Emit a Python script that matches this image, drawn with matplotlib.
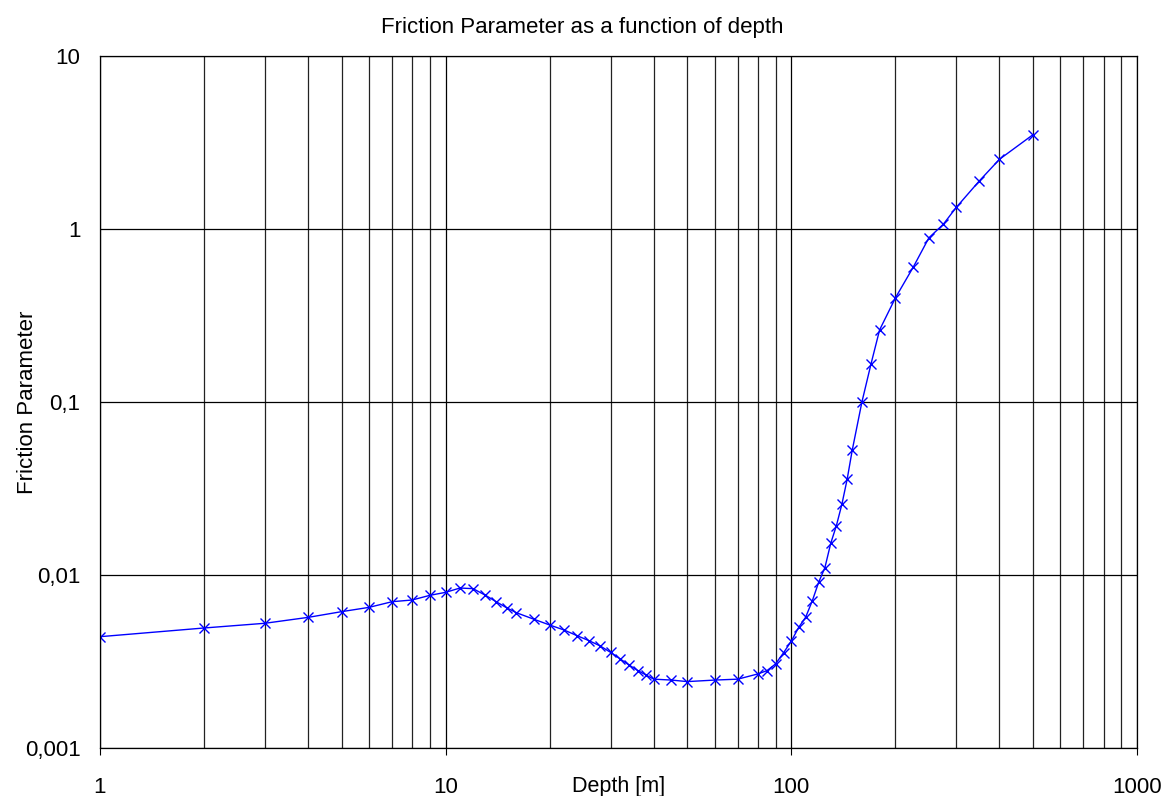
import matplotlib
matplotlib.use('Agg')
import matplotlib.pyplot as plt
from matplotlib.ticker import FixedLocator, FixedFormatter, NullFormatter, LogLocator

plt.rcParams['font.family'] = ['Liberation Sans', 'DejaVu Sans']

# depth [m] and friction parameter
depth = [1, 2, 3, 4, 5, 6, 7, 8, 9, 10, 11, 12, 13, 14, 15, 16, 18, 20, 22, 24, 26, 28,
         30, 32, 34, 36, 38, 40, 45, 50, 60, 70, 80, 85, 90, 95, 100, 105, 110, 115, 120,
         125, 130, 135, 140, 145, 150, 160, 170, 180, 200, 225, 250, 275, 300, 350, 400, 500]
friction = [0.0044, 0.00494, 0.00526, 0.00569, 0.00614, 0.0065, 0.00701, 0.00717, 0.00763,
            0.00794, 0.00841, 0.00834, 0.00766, 0.00701, 0.00647, 0.00606, 0.00555, 0.00514,
            0.00481, 0.00446, 0.00417, 0.00389, 0.00357, 0.00327, 0.00301, 0.0028, 0.00264,
            0.0025, 0.00247, 0.00242, 0.00247, 0.0025, 0.00268, 0.0028, 0.00306, 0.00356,
            0.00415, 0.00498, 0.0057, 0.0071, 0.0091, 0.011, 0.01525, 0.0193, 0.0256, 0.0357,
            0.0526, 0.1, 0.166, 0.261, 0.4, 0.6, 0.89, 1.064, 1.334, 1.9, 2.53, 3.51]

y_ticks = [0.001, 0.01, 0.1, 1, 10]
y_labels = ['0,001', '0,01', '0,1', '1', '10']
x_ticks = [1, 10, 100, 1000]
x_labels = ['1', '10', '100', '1000']

fig = plt.figure(figsize=(11.65, 7.96), dpi=100)
ax = fig.add_axes([0.0858, 0.0603, 0.8902, 0.8693])

ax.plot(depth, friction, color='#0000ff', marker='x', markersize=7, linewidth=1, markeredgewidth=1)

ax.set_xscale('log')
ax.set_yscale('log')
ax.set_xlim(1, 1000)
ax.set_ylim(0.001, 10)

ax.xaxis.set_major_locator(FixedLocator(x_ticks))
ax.xaxis.set_major_formatter(FixedFormatter(x_labels))
ax.xaxis.set_minor_locator(LogLocator(base=10, subs=range(2, 10)))
ax.xaxis.set_minor_formatter(NullFormatter())
ax.yaxis.set_major_locator(FixedLocator(y_ticks))
ax.yaxis.set_major_formatter(FixedFormatter(y_labels))
ax.yaxis.set_minor_locator(FixedLocator([]))

ax.grid(True, which='major', axis='both', color='black', linewidth=0.9)
ax.grid(True, which='minor', axis='x', color='#222222', linewidth=0.9)
ax.set_axisbelow(True)

ax.tick_params(axis='x', which='major', direction='out', length=5, pad=16, labelsize=16)
ax.tick_params(axis='x', which='minor', length=0)
ax.tick_params(axis='y', which='major', length=0, pad=14, labelsize=16)
for s in ax.spines.values():
    s.set_color('black')
    s.set_linewidth(0.9)

ax.set_xlabel('Depth [m]', fontsize=15.5)
ax.xaxis.set_label_coords(0.5, -0.0405)
ax.set_ylabel('Friction Parameter', fontsize=16)
ax.yaxis.set_label_coords(-0.0598, 0.5)

# title is centred on the whole figure, not on the axes
fig.text(0.5, 1 - 27 / 796, 'Friction Parameter as a function of depth',
         fontsize=16, ha='center', va='center')

plt.savefig('out.png')
